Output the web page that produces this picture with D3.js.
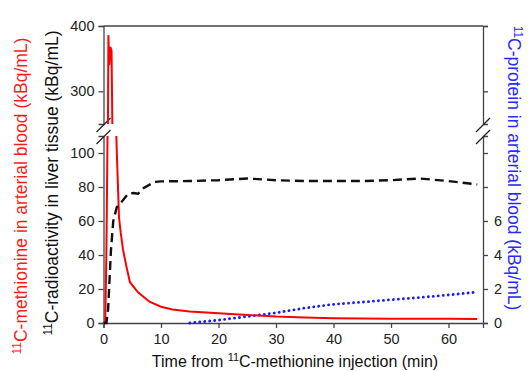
<!DOCTYPE html>
<html>
<head>
<meta charset="utf-8">
<script src="https://cdn.jsdelivr.net/npm/d3@7"></script>
<style>
	body { margin: 0; background: #fff; }
	text { font-family: Arial, "Liberation Sans", sans-serif; }
</style>
</head>
<body>
<svg width="529" height="371"></svg>
<script>
//time points and values (minutes, kBq/mL)
var bloodTime = [0, 0.3, 0.5, 0.7, 0.85, 1.0, 1.2, 1.4, 1.55, 1.9, 2.3, 2.5, 2.7, 3.0, 3.4, 4.0, 4.6, 6, 8, 10, 12, 15, 20, 25, 30, 35, 40, 45, 50, 55, 60, 65];
var bloodValue = [0, 0, 40, 110, 386, 340, 368, 362, 240, 150, 102, 82, 62, 53, 43, 33, 24, 18, 12.5, 9.6, 8, 6.8, 5.8, 4.7, 3.8, 3.3, 2.8, 2.6, 2.5, 2.5, 2.5, 2.4];

var liverTime = [0, 0.5, 0.8, 1.3, 1.7, 2.3, 3.2, 4.3, 5.2, 6, 7, 8.9, 10, 15, 20, 25, 30, 35, 40, 45, 50, 55, 60, 65];
var liverValue = [0, 0, 8, 43, 60, 68, 71.5, 76, 76.5, 76, 79.5, 83, 83.3, 83.5, 84, 85, 84, 83.5, 83.5, 83.5, 84, 85, 83.5, 81.5];

var proteinTime = [15, 20, 25, 30, 35, 40, 45, 50, 55, 60, 65];
var proteinValue = [0, 0.17, 0.38, 0.6, 0.88, 1.1, 1.23, 1.37, 1.5, 1.65, 1.82];

//tick labels
var xTicks = [0, 10, 20, 30, 40, 50, 60];
var leftLowTicks = [0, 20, 40, 60, 80, 100];
var leftHighTicks = [300, 400];
var rightLowTicks = [0, 2, 4, 6, 8, 10];
var rightLowLabels = [0, 2, 4, 6];
var rightHighTicks = [30, 40];

var svg = d3.select("svg");

//scales: the y axis is broken in two segments
var x = d3.scaleLinear().domain([0, 66]).range([103.5, 483]);
var yLow = d3.scaleLinear().domain([0, 110]).range([323, 136]);
var yHigh = d3.scaleLinear().domain([250, 400]).range([124, 26]);
var yRightLow = d3.scaleLinear().domain([0, 11]).range([323, 136]);
var yRightHigh = d3.scaleLinear().domain([25, 40]).range([124, 26]);

var axisColor = "#444";

//clip paths for both segments
var defs = svg.append("defs");
defs.append("clipPath").attr("id", "clip-low")
	.append("rect")
	.attr("x", x(0)).attr("y", yLow(110))
	.attr("width", x(66) - x(0)).attr("height", yLow(0) - yLow(110) + 2);
defs.append("clipPath").attr("id", "clip-high")
	.append("rect")
	.attr("x", x(0)).attr("y", yHigh(400))
	.attr("width", x(66) - x(0)).attr("height", yHigh(250) - yHigh(400));

//top border
svg.append("line")
	.attr("x1", x(0)).attr("x2", x(66))
	.attr("y1", yHigh(400)).attr("y2", yHigh(400))
	.attr("stroke", axisColor).attr("stroke-width", 1.3);

function styleAxis(g, showText) {
	g.select(".domain").attr("stroke", axisColor).attr("stroke-width", 1.3);
	g.selectAll(".tick line").attr("stroke", axisColor).attr("stroke-width", 1.3);
	g.selectAll(".tick text")
		.attr("font-size", 14.5)
		.attr("fill", "#222")
		.style("font-family", "Arial, 'Liberation Sans', sans-serif");
	if (!showText) g.selectAll(".tick text").remove();
}

//bottom axis
svg.append("g")
	.attr("transform", "translate(0," + yLow(0) + ")")
	.call(d3.axisBottom(x).tickValues(xTicks).tickSizeOuter(0).tickSize(5).tickPadding(6))
	.call(styleAxis, true);

//left axis, both segments
svg.append("g")
	.attr("transform", "translate(" + x(0) + ",0)")
	.call(d3.axisLeft(yLow).tickValues(leftLowTicks).tickSizeOuter(0).tickSize(5).tickPadding(4))
	.call(styleAxis, true);
svg.append("g")
	.attr("transform", "translate(" + x(0) + ",0)")
	.call(d3.axisLeft(yHigh).tickValues(leftHighTicks).tickSizeOuter(0).tickSize(5).tickPadding(4))
	.call(styleAxis, true);

//right axis, both segments
svg.append("g")
	.attr("transform", "translate(" + x(66) + ",0)")
	.call(d3.axisRight(yRightLow).tickValues(rightLowTicks).tickSizeOuter(0).tickSize(5).tickPadding(6)
		.tickFormat(function (d) { return rightLowLabels.indexOf(d) >= 0 ? d : ""; }))
	.call(styleAxis, true);
svg.append("g")
	.attr("transform", "translate(" + x(66) + ",0)")
	.call(d3.axisRight(yRightHigh).tickValues(rightHighTicks).tickSizeOuter(0).tickSize(5))
	.call(styleAxis, false);

//break marks on both y axes
[x(0), x(66)].forEach(function (bx) {
	[yHigh(250) + 1, yLow(110) + 1].forEach(function (by) {
		svg.append("line")
			.attr("x1", bx - 7).attr("y1", by + 7)
			.attr("x2", bx + 7).attr("y2", by - 7)
			.attr("stroke", "#222").attr("stroke-width", 1.2);
	});
});

//line generators
var bloodLow = d3.line()
	.x(function (d, i) { return x(bloodTime[i]); })
	.y(function (d) { return yLow(d); });
var bloodHigh = d3.line()
	.x(function (d, i) { return x(bloodTime[i]); })
	.y(function (d) { return yHigh(d); });
var liverLine = d3.line()
	.x(function (d, i) { return x(liverTime[i]); })
	.y(function (d) { return yLow(d); });
var proteinLine = d3.line()
	.x(function (d, i) { return x(proteinTime[i]); })
	.y(function (d) { return yRightLow(d); });

//protein (blue dots)
svg.append("path")
	.datum(proteinValue)
	.attr("d", proteinLine)
	.attr("fill", "none")
	.attr("stroke", "#1a1aff")
	.attr("stroke-width", 2.8)
	.attr("stroke-linecap", "round")
	.attr("stroke-dasharray", "0.1,4.9");

//arterial blood (red), drawn in both segments
svg.append("path")
	.datum(bloodValue)
	.attr("clip-path", "url(#clip-low)")
	.attr("d", bloodLow)
	.attr("fill", "none")
	.attr("stroke", "#ff0000")
	.attr("stroke-width", 2);
svg.append("path")
	.datum(bloodValue)
	.attr("clip-path", "url(#clip-high)")
	.attr("d", bloodHigh)
	.attr("fill", "none")
	.attr("stroke", "#ff0000")
	.attr("stroke-width", 2);

//liver tissue (black dashes)
svg.append("path")
	.datum(liverValue)
	.attr("clip-path", "url(#clip-low)")
	.attr("d", liverLine)
	.attr("fill", "none")
	.attr("stroke", "#111")
	.attr("stroke-width", 2.4)
	.attr("stroke-dasharray", "9,5");

//axis titles with superscript 11
function title(tx, ty, angle, color, size, before, rest) {
	var t = svg.append("text")
		.attr("transform", "translate(" + tx + "," + ty + ") rotate(" + angle + ")")
		.attr("text-anchor", "middle")
		.attr("font-size", size)
		.attr("fill", color);
	if (before) t.append("tspan").text(before);
	t.append("tspan").attr("font-size", size * 0.68).attr("dy", -6).text("11");
	t.append("tspan").attr("dy", 6).text(rest);
}

title(295, 367, 0, "#111", 16, "Time from ", "C-methionine injection (min)");
title(27, 196, -90, "#ff1a1a", 17.5, "", "C-methionine in arterial blood (kBq/mL)");
title(58, 183, -90, "#111", 17.5, "", "C-radioactivity in liver tissue (kBq/mL)");
title(508, 168, 90, "#2a2aff", 17.5, "", "C-protein in arterial blood (kBq/mL)");
</script>
</body>
</html>
